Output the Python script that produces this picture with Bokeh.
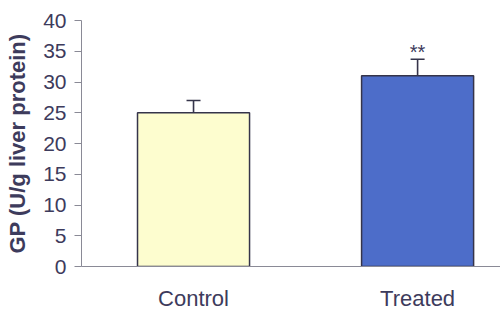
from bokeh.plotting import figure
from bokeh.models import Range1d, ColumnDataSource, Whisker, TeeHead, FixedTicker
from bokeh.core.properties import value
from bokeh.embed import file_html
from bokeh.resources import INLINE

groups = ["Control", "Treated"]
means = [25.0, 31.0]
errors = [2.0, 2.7]
bar_colors = ["#fdfdcf", "#4d6dc9"]
marks = ["", "**"]
y_ticks = [0, 5, 10, 15, 20, 25, 30, 35, 40]

xpos = [i + 0.5 for i in range(len(groups))]
upper = [m + e for m, e in zip(means, errors)]
src = ColumnDataSource(dict(x=xpos, m=means, up=upper, c=bar_colors, mk=marks))

text_color = "#3d3b5c"
axis_color = "#8a8a96"
edge = "#35344a"
p = figure(width=500, height=314, output_backend="svg", toolbar_location=None,
           x_range=Range1d(0.0, 1.87), y_range=Range1d(0, 40),
           min_border_left=81, min_border_right=0, min_border_top=20, min_border_bottom=48)
p.outline_line_color = None
p.xgrid.visible = False
p.ygrid.visible = False
p.background_fill_color = "white"
p.border_fill_color = "white"

p.vbar(x="x", top="m", width=0.5, bottom=0, source=src, fill_color="c",
       line_color=edge, line_width=1.5)

w = Whisker(source=src, base="x", lower="m", upper="up", line_color=edge, line_width=1.6,
            upper_head=TeeHead(size=14, line_color=edge, line_width=1.6), lower_head=None)
p.add_layout(w)

p.text(x="x", y="up", text="mk", source=src, text_font=value("Liberation Sans"),
       text_font_size="20px", text_color=text_color, text_align="center",
       text_baseline="bottom", y_offset=4)

p.yaxis.ticker = FixedTicker(ticks=y_ticks)
p.yaxis.minor_tick_line_color = None
p.yaxis.major_tick_out = 7
p.yaxis.major_tick_in = 0
p.yaxis.axis_line_color = axis_color
p.yaxis.major_tick_line_color = axis_color
p.yaxis.major_label_text_font = "Liberation Sans"
p.yaxis.major_label_text_font_size = "21px"
p.yaxis.major_label_text_color = text_color
p.yaxis.major_label_standoff = 8
p.yaxis.axis_label = "GP (U/g liver protein)"
p.yaxis.axis_label_text_font = "Liberation Sans"
p.yaxis.axis_label_text_font_style = "bold"
p.yaxis.axis_label_text_font_size = "22px"
p.yaxis.axis_label_text_color = text_color
p.yaxis.axis_label_standoff = 10

p.xaxis.ticker = FixedTicker(ticks=xpos)
p.xaxis.major_label_overrides = {x: g for x, g in zip(xpos, groups)}
p.xaxis.major_tick_line_color = None
p.xaxis.minor_tick_line_color = None
p.xaxis.axis_line_color = axis_color
p.xaxis.major_label_text_font = "Liberation Sans"
p.xaxis.major_label_text_font_size = "22px"
p.xaxis.major_label_text_color = text_color
p.xaxis.major_label_standoff = 13

open("out.html", "w").write(file_html(p, INLINE))
